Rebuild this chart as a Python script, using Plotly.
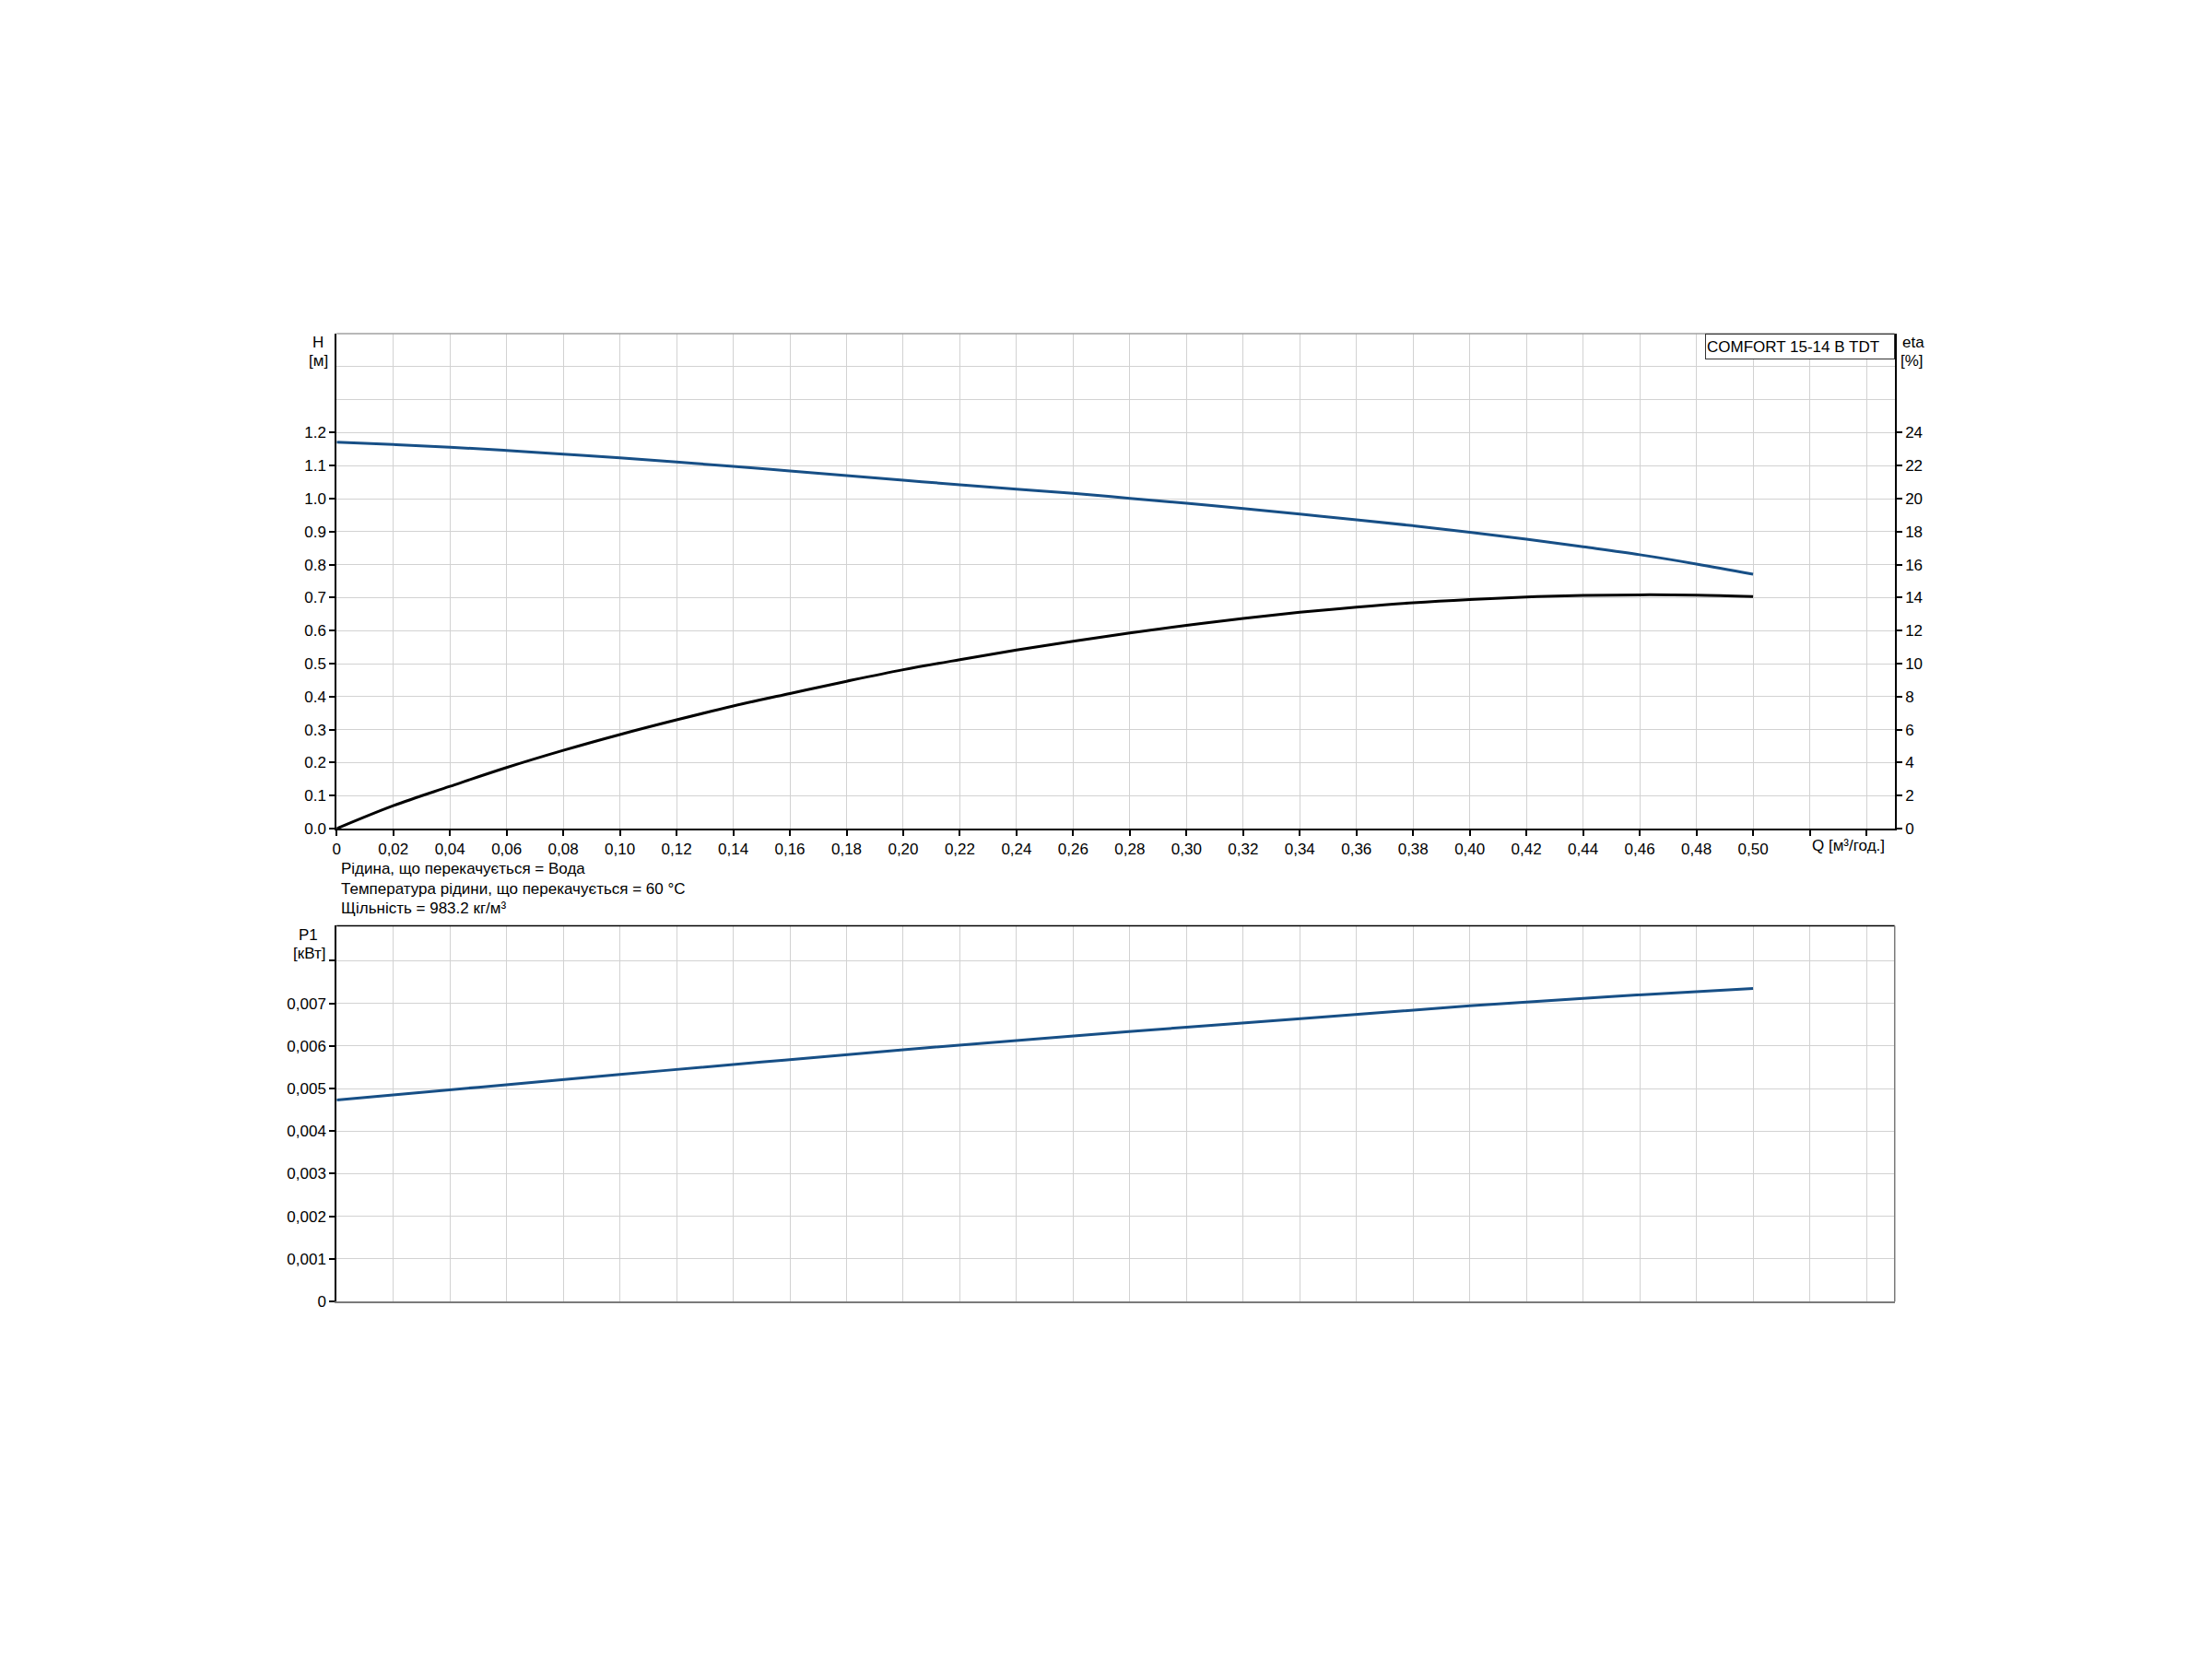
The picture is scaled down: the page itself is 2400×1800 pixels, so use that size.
import plotly.graph_objects as go

# ---------------- data ----------------
Q = [0.00, 0.02, 0.04, 0.06, 0.08, 0.10, 0.12, 0.14, 0.16, 0.18, 0.20, 0.22, 0.24,
     0.26, 0.28, 0.30, 0.32, 0.34, 0.36, 0.38, 0.40, 0.42, 0.44, 0.46, 0.48, 0.50]
H = [1.171, 1.164, 1.156, 1.146, 1.135, 1.124, 1.111, 1.098, 1.084, 1.070, 1.056, 1.042, 1.029,
     1.016, 1.001, 0.986, 0.970, 0.953, 0.936, 0.918, 0.898, 0.877, 0.854, 0.830, 0.802, 0.771]
ETA = [0.00, 1.39, 2.56, 3.70, 4.74, 5.70, 6.59, 7.43, 8.19, 8.93, 9.63, 10.24, 10.82,
       11.36, 11.86, 12.32, 12.74, 13.11, 13.42, 13.69, 13.89, 14.04, 14.13, 14.17, 14.15, 14.07]
Q_P = [0.00, 0.05, 0.10, 0.15, 0.20, 0.25, 0.30, 0.35, 0.40, 0.45, 0.50]
P1 = [0.00473, 0.00503, 0.00533, 0.00562, 0.00591, 0.00618, 0.00644, 0.00669, 0.00694, 0.00716, 0.00735]

Q_TICKS = [0.00, 0.02, 0.04, 0.06, 0.08, 0.10, 0.12, 0.14, 0.16, 0.18, 0.20, 0.22, 0.24, 0.26,
           0.28, 0.30, 0.32, 0.34, 0.36, 0.38, 0.40, 0.42, 0.44, 0.46, 0.48, 0.50, 0.52, 0.54]
Q_LABELS = ["0", "0,02", "0,04", "0,06", "0,08", "0,10", "0,12", "0,14", "0,16", "0,18", "0,20",
            "0,22", "0,24", "0,26", "0,28", "0,30", "0,32", "0,34", "0,36", "0,38", "0,40",
            "0,42", "0,44", "0,46", "0,48", "0,50", "", ""]
H_TICKS = [0.0, 0.1, 0.2, 0.3, 0.4, 0.5, 0.6, 0.7, 0.8, 0.9, 1.0, 1.1, 1.2]
H_LABELS = ["0.0", "0.1", "0.2", "0.3", "0.4", "0.5", "0.6", "0.7", "0.8", "0.9", "1.0", "1.1", "1.2"]
ETA_TICKS = [0, 2, 4, 6, 8, 10, 12, 14, 16, 18, 20, 22, 24]
ETA_LABELS = ["0", "2", "4", "6", "8", "10", "12", "14", "16", "18", "20", "22", "24"]
P_TICKS = [0.000, 0.001, 0.002, 0.003, 0.004, 0.005, 0.006, 0.007, 0.008]
P_LABELS = ["0", "0,001", "0,002", "0,003", "0,004", "0,005", "0,006", "0,007", ""]

INFO_LINES = ["Рідина, що перекачується = Вода",
              "Температура рідини, що перекачується = 60 °C",
              "Щільність = 983.2 кг/м³"]
TITLE = "COMFORT 15-14 B TDT"

# ---------------- layout constants ----------------
W, HT = 2400, 1800
OFF_X, OFF_Y = 9, 3  # page offset compensation
FONT = "Arial, 'Liberation Sans', sans-serif"
FS = 17
BLUE = "#174f86"
GRID = "#d2d2d2"


def px(x):
    return (x - OFF_X) / W


def py(y):
    return 1 - (y - OFF_Y) / HT


XD = [px(362), px(2056)]
YD_TOP = [py(899), py(359)]
YD_BOT = [py(1415), py(1005)]

fig = go.Figure()

fig.add_trace(go.Scatter(x=Q, y=H, mode="lines", line=dict(color=BLUE, width=3, shape="spline"),
                         xaxis="x", yaxis="y", showlegend=False))
fig.add_trace(go.Scatter(x=Q, y=ETA, mode="lines", line=dict(color="black", width=3, shape="spline"),
                         xaxis="x", yaxis="y2", showlegend=False))
fig.add_trace(go.Scatter(x=Q_P, y=P1, mode="lines", line=dict(color=BLUE, width=3, shape="spline"),
                         xaxis="x2", yaxis="y3", showlegend=False))

tickfont = dict(family=FONT, size=FS, color="black")

fig.update_layout(
    width=W, height=HT,
    margin=dict(l=0, r=0, t=0, b=0),
    paper_bgcolor="white", plot_bgcolor="white",
    font=dict(family=FONT, size=FS, color="black"),
    xaxis=dict(domain=XD, anchor="y", range=[0, 0.55], tickmode="array", tickvals=Q_TICKS, ticktext=Q_LABELS,
               ticks="outside", ticklen=6, tickwidth=1.5, tickcolor="black", tickfont=tickfont,
               showline=True, linecolor="black", linewidth=2, showgrid=True, gridcolor=GRID, gridwidth=1,
               zeroline=False, fixedrange=True),
    yaxis=dict(domain=YD_TOP, anchor="x", range=[0, 1.5], tickmode="array", tickvals=H_TICKS, ticktext=H_LABELS,
               ticks="outside", ticklen=6, tickwidth=1.5, tickcolor="black", tickfont=tickfont,
               showline=True, linecolor="black", linewidth=2, showgrid=True, gridcolor=GRID, gridwidth=1,
               minor=dict(tick0=0, dtick=0.1, showgrid=True, gridcolor=GRID, gridwidth=1, ticks=""),
               zeroline=False, fixedrange=True),
    yaxis2=dict(overlaying="y", anchor="x", side="right", range=[0, 30], tickmode="array",
                tickvals=ETA_TICKS, ticktext=ETA_LABELS, ticks="outside", ticklen=6, tickwidth=1.5,
                tickcolor="black", tickfont=tickfont, showline=True, linecolor="black", linewidth=2,
                showgrid=False, zeroline=False, fixedrange=True),
    xaxis2=dict(domain=XD, anchor="y3", range=[0, 0.55], tickmode="array", tickvals=Q_TICKS,
                showticklabels=False, ticks="", showline=True, linecolor="#7a7a7a", linewidth=1.5,
                showgrid=True, gridcolor=GRID, gridwidth=1, zeroline=False, fixedrange=True),
    yaxis3=dict(domain=YD_BOT, anchor="x2", range=[0, 0.00882], tickmode="array", tickvals=P_TICKS,
                ticktext=P_LABELS, ticks="outside", ticklen=6, tickwidth=1.5, tickcolor="black",
                tickfont=tickfont, showline=True, linecolor="black", linewidth=2, showgrid=True,
                gridcolor=GRID, gridwidth=1, zeroline=False, fixedrange=True),
)

# frame lines
fig.add_shape(type="line", xref="x domain", yref="y domain", x0=0, x1=1, y0=1, y1=1,
              line=dict(color="#a0a0a0", width=1.5), layer="above")
fig.add_shape(type="line", xref="x2 domain", yref="y3 domain", x0=0, x1=1, y0=1, y1=1,
              line=dict(color="black", width=1.5), layer="above")
fig.add_shape(type="line", xref="x2 domain", yref="y3 domain", x0=1, x1=1, y0=0, y1=1,
              line=dict(color="#7a7a7a", width=1.5), layer="above")


def label(text, x, y, xanchor="center"):
    return dict(text=text, x=px(x), y=py(y), xref="paper", yref="paper", xanchor=xanchor,
                yanchor="middle", showarrow=False, font=dict(size=FS))


ann = [
    label("H", 342, 369),
    label("[м]", 342, 389),
    label("eta", 2076, 369),
    label("[%]", 2075, 389),
    label("P1", 331, 1015),
    label("[кВт]", 332, 1035),
    label("Q [м³/год.]", 2006, 918),
]
for i, line in enumerate(INFO_LINES):
    ann.append(label(line, 365, 943 + i * 21.5, xanchor="left"))
ann.append(dict(text=TITLE, x=px(2056), y=py(359), xref="paper", yref="paper", xanchor="right", yanchor="top",
                showarrow=False, font=dict(size=FS), align="left", width=202, height=24,
                bgcolor="white", bordercolor="#333333", borderwidth=1, borderpad=1))
fig.update_layout(annotations=ann)

fig.write_html("out.html")
